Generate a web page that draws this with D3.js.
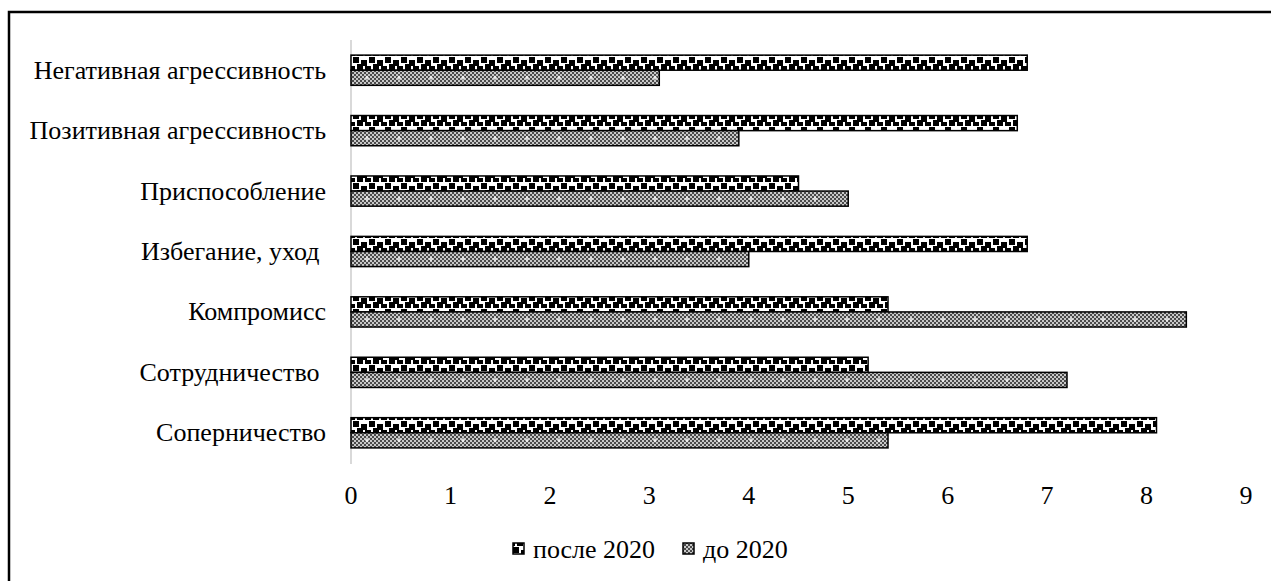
<!DOCTYPE html>
<html>
<head>
<meta charset="utf-8">
<script src="https://cdn.jsdelivr.net/npm/d3@7"></script>
<style>
  body { margin: 0; background: #fff; }
</style>
</head>
<body>
<div class="chart"></div>
<script>
const categories = ["Негативная агрессивность", "Позитивная агрессивность", "Приспособление",
    "Избегание, уход ", "Компромисс", "Сотрудничество ", "Соперничество"];
const after2020 = [6.8, 6.7, 4.5, 6.8, 5.4, 5.2, 8.1];
const before2020 = [3.1, 3.9, 5.0, 4.0, 8.4, 7.2, 5.4];
const seriesNames = ["после 2020", "до 2020"];
const xTicks = [0, 1, 2, 3, 4, 5, 6, 7, 8, 9];

const width = 1271, height = 581;
const font = "Liberation Serif";

const svg = d3.select('.chart')
    .append('svg')
    .attr("width", width)
    .attr("height", height)
    .attr("font-family", font);

const defs = svg.append("defs");

// "после" pattern: white with staggered black squares
const pAfter = defs.append("pattern")
    .attr("id", "pAfter")
    .attr("patternUnits", "userSpaceOnUse")
    .attr("width", 16).attr("height", 14);
pAfter.append("rect").attr("width", 16).attr("height", 14).attr("fill", "#fff");
[[1, 1], [9, 4], [5, 8], [13, 10]].forEach(([x, y]) => {
    pAfter.append("rect").attr("x", x).attr("y", y).attr("width", 6).attr("height", 6).attr("fill", "#000");
});
pAfter.append("rect").attr("x", -3).attr("y", 10).attr("width", 6).attr("height", 6).attr("fill", "#000");

// "до" pattern base: fine checkerboard
const pCheck = defs.append("pattern")
    .attr("id", "pCheck")
    .attr("patternUnits", "userSpaceOnUse")
    .attr("width", 4).attr("height", 4);
pCheck.append("rect").attr("width", 4).attr("height", 4).attr("fill", "#c8c8c8");
pCheck.append("rect").attr("width", 2).attr("height", 2).attr("fill", "#4a4a4a");
pCheck.append("rect").attr("x", 2).attr("y", 2).attr("width", 2).attr("height", 2).attr("fill", "#4a4a4a");

const x = d3.scaleLinear().domain([0, 9]).range([351, 1246]);
const y0 = d3.scaleBand().domain(categories).range([40, 463]).paddingInner(0.5).paddingOuter(0.25);
const y1 = d3.scaleBand().domain(seriesNames).range([0, y0.bandwidth()]);

// vertical axis line
svg.append("line")
    .attr("x1", x(0)).attr("x2", x(0))
    .attr("y1", 40).attr("y2", 464)
    .attr("stroke", "#d9d9d9").attr("stroke-width", 2);

const groups = svg.selectAll("g.cat")
    .data(categories)
    .join("g")
    .attr("class", "cat");

groups.append("rect")
    .attr("x", x(0))
    .attr("y", d => y0(d) + y1(seriesNames[0]))
    .attr("width", (d, i) => x(after2020[i]) - x(0))
    .attr("height", y1.bandwidth())
    .attr("fill", "url(#pAfter)")
    .attr("stroke", "#000").attr("stroke-width", 1.5);

groups.append("rect")
    .attr("x", x(0))
    .attr("y", d => y0(d) + y1(seriesNames[1]))
    .attr("width", (d, i) => x(before2020[i]) - x(0))
    .attr("height", y1.bandwidth())
    .attr("fill", "url(#pCheck)")
    .attr("stroke", "#000").attr("stroke-width", 1.5);

// faint light marks inside "до" bars
groups.each(function(d, i) {
    const g = d3.select(this);
    const yy = y0(d) + y1(seriesNames[1]) + y1.bandwidth() / 2;
    const xs = d3.range(x(0) + 16, x(before2020[i]) - 4, 32);
    g.selectAll("path.dia")
        .data(xs)
        .join("path")
        .attr("class", "dia")
        .attr("d", v => `M${v},${yy - 2.5}L${v + 2},${yy}L${v},${yy + 2.5}L${v - 2},${yy}Z`)
        .attr("fill", "#fff")
        .attr("opacity", 0.75);
});

// category labels
svg.selectAll("text.cat")
    .data(categories)
    .join("text")
    .attr("class", "cat")
    .attr("x", 326)
    .attr("y", d => y0(d) + y0.bandwidth() / 2 + 8.5)
    .attr("text-anchor", "end")
    .attr("font-size", 26)
    .style("white-space", "pre")
    .text(d => d);

// x tick labels
svg.selectAll("text.tick")
    .data(xTicks)
    .join("text")
    .attr("class", "tick")
    .attr("x", d => x(d))
    .attr("y", 504)
    .attr("text-anchor", "middle")
    .attr("font-size", 26)
    .text(d => d);

// legend
const legend = [
    {name: seriesNames[0], fill: "url(#pAfter)", x: 513},
    {name: seriesNames[1], fill: "url(#pCheck)", x: 683}
];
const lg = svg.selectAll("g.leg")
    .data(legend)
    .join("g")
    .attr("class", "leg");
lg.append("rect")
    .attr("x", d => d.x).attr("y", 543)
    .attr("width", 11).attr("height", 11)
    .attr("fill", d => d.fill)
    .attr("stroke", "#000").attr("stroke-width", 1.5);
lg.append("text")
    .attr("x", d => d.x + 20).attr("y", 558)
    .attr("font-size", 26)
    .text(d => d.name);

// outer frame
svg.append("rect")
    .attr("x", 9).attr("y", 12)
    .attr("width", 1400).attr("height", 700)
    .attr("fill", "none")
    .attr("stroke", "#000").attr("stroke-width", 2.5);
</script>
</body>
</html>
